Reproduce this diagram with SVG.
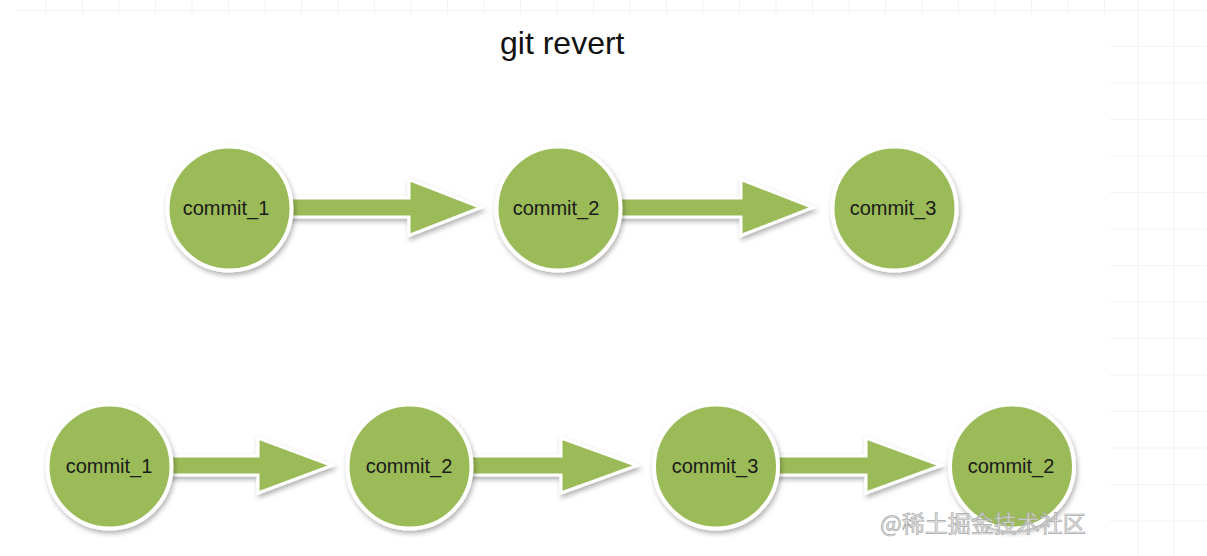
<svg xmlns="http://www.w3.org/2000/svg" width="1207" height="556" viewBox="0 0 1207 556">
  <defs>
    <filter id="sh" x="-20%" y="-20%" width="140%" height="140%">
      <feDropShadow dx="1.5" dy="3" stdDeviation="2.5" flood-color="#000" flood-opacity="0.3"/>
    </filter>
    <style>
      .grid { stroke: #f3f3f3; stroke-width: 1; fill: none; }
      .node circle { fill: #9bbb59; stroke: #ffffff; stroke-width: 4; filter: url(#sh); }
      .node text { font-family: "Liberation Sans", Arial, sans-serif; font-size: 20px; fill: #1a1a1a; text-anchor: middle; }
      .arrow { fill: #9bbb59; stroke: #ffffff; stroke-width: 3; stroke-linejoin: miter; filter: url(#sh); }
      .title { font-family: "Liberation Sans", Arial, sans-serif; font-size: 32px; fill: #111111; }
      .wm { font-family: "Noto Sans CJK SC", "Liberation Sans", sans-serif; font-size: 23px; fill: #e2e2e2; fill-opacity: 0.75; stroke: #a9a9a9; stroke-width: 0.7; }
    </style>
  </defs>
  <rect width="1207" height="556" fill="#ffffff"/>
  <g id="grid" class="grid">
    <path d="M15 10.5H1207"/>
    <path d="M46 0V15M82.5 0V15M119 0V15M155.5 0V15M192 0V15M228.5 0V15M265 0V15M301.5 0V15M338 0V15M374.5 0V15M411 0V15M447.5 0V15M484 0V15M520.5 0V15M557 0V15M593.5 0V15M630 0V15M666.5 0V15M703 0V15M739.5 0V15M776 0V15M812.5 0V15M849 0V15M885.5 0V15M922 0V15M958.5 0V15M995 0V15M1031.5 0V15M1068 0V15M1104.5 0V15"/>
    <path d="M1138 0V556M1174 0V556"/>
    <path d="M1110 46.5H1207M1110 83H1207M1110 119.5H1207M1110 156H1207M1110 192.5H1207M1110 229H1207M1110 265.5H1207M1110 302H1207M1110 338.5H1207M1110 375H1207M1110 411.5H1207M1110 448H1207M1110 484.5H1207M1110 521H1207"/>
  </g>
  <text class="title" x="500" y="54">git revert</text>
  <g id="connectors">
    <path class="arrow" d="M280 198H409V179.5L481 207.5L409 235.5V217H280Z"/>
    <path class="arrow" d="M612 198H741V179.5L813 207.5L741 235.5V217H612Z"/>
    <path class="arrow" d="M160 456H258V438L332 465.5L258 493V475H160Z"/>
    <path class="arrow" d="M460 456H561V438L637 465.5L561 493V475H460Z"/>
    <path class="arrow" d="M767 456H866V438L941 465.5L866 493V475H767Z"/>
  </g>
  <g id="n1" class="node"><circle cx="229.5" cy="208.5" r="62"/><text x="226" y="215">commit_1</text></g>
  <g id="n2" class="node"><circle cx="558.5" cy="208.5" r="62"/><text x="556" y="215">commit_2</text></g>
  <g id="n3" class="node"><circle cx="894.5" cy="208.5" r="62"/><text x="893" y="215">commit_3</text></g>
  <g id="n4" class="node"><circle cx="109.5" cy="466.5" r="62"/><text x="109" y="473">commit_1</text></g>
  <g id="n5" class="node"><circle cx="409.5" cy="466.5" r="62"/><text x="409" y="473">commit_2</text></g>
  <g id="n6" class="node"><circle cx="716" cy="466.5" r="62"/><text x="715" y="473">commit_3</text></g>
  <g id="n7" class="node"><circle cx="1012" cy="466.5" r="62"/><text x="1011" y="473">commit_2</text></g>
  <text class="wm" x="880" y="532">@稀土掘金技术社区</text>
</svg>
